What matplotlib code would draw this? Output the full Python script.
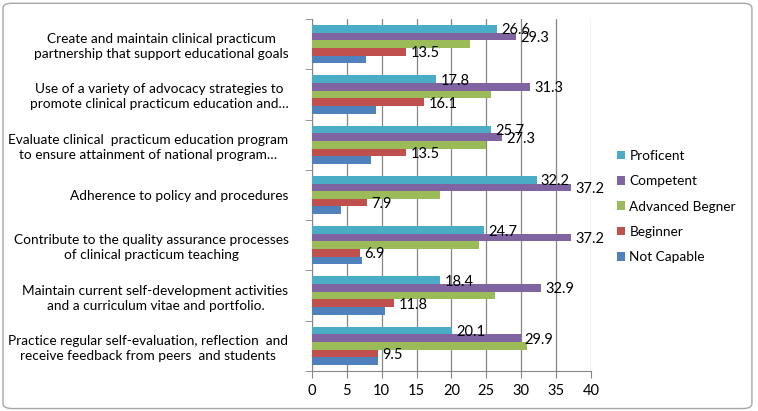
import matplotlib.pyplot as plt
import numpy as np
from matplotlib.patches import FancyBboxPatch, Patch

# Categories listed top to bottom as they appear in the chart
categories = [
    "Create and maintain clinical practicum\npartnership that support educational goals",
    "Use of a variety of advocacy strategies to\npromote clinical practicum education and…",
    "Evaluate clinical  practicum education program\nto ensure attainment of national program…",
    "Adherence to policy and procedures",
    "Contribute to the quality assurance processes\nof clinical practicum teaching",
    "Maintain current self-development activities\nand a curriculum vitae and portfolio.",
    "Practice regular self-evaluation, reflection  and\nreceive feedback from peers  and students",
]
series_names = ["Proficent", "Competent", "Advanced Begner", "Beginner", "Not Capable"]
proficient = [26.6, 17.8, 25.7, 32.2, 24.7, 18.4, 20.1]
competent = [29.3, 31.3, 27.3, 37.2, 37.2, 32.9, 29.9]
advanced = [22.7, 25.7, 25.0, 18.4, 24.0, 26.3, 30.9]
beginner = [13.5, 16.1, 13.5, 7.9, 6.9, 11.8, 9.5]
not_capable = [7.8, 9.2, 8.5, 4.2, 7.2, 10.5, 9.5]
labelled = [True, True, False, True, False]

colors = ["#4BACC6", "#8064A2", "#9BBB59", "#C0504D", "#4F81BD"]

plt.rcParams.update({
    "font.family": ["Lato", "DejaVu Sans"],
    "font.size": 10.5,
})

fig = plt.figure(figsize=(7.58, 4.11), dpi=100)
fig.patches.append(FancyBboxPatch((0.004, 0.006), 0.988, 0.986,
                                  boxstyle="round,pad=0,rounding_size=0.012",
                                  transform=fig.transFigure, facecolor="none",
                                  edgecolor="#A6A6A6", linewidth=1.0))
ax = fig.add_axes([0.4116, 0.0973, 0.368, 0.8565])

data = [proficient, competent, advanced, beginner, not_capable]
n = len(categories)
centers = np.arange(n)[::-1].astype(float)
bh = 0.152
for i, (vals, col) in enumerate(zip(data, colors)):
    ys = centers + (2 - i) * bh
    ax.barh(ys, vals, height=bh, color=col, edgecolor="none", zorder=3)
    if labelled[i]:
        for y, v in zip(ys, vals):
            ax.text(v + 0.6, y - 0.03, f"{v:.1f}", va="center", ha="left",
                    fontsize=10.5, color="#000000", zorder=4)

ax.set_xlim(0, 40)
ax.set_ylim(-0.5, n - 0.5)
ax.set_xticks(np.arange(0, 41, 5))
ax.set_yticks(centers)
ax.set_yticklabels(categories, fontsize=9.8, linespacing=1.3)
for lab in ax.get_yticklabels():
    lab.set_multialignment("center")
ax.set_yticks(np.arange(-0.5, n, 1.0), minor=True)
ax.tick_params(axis="y", which="major", length=0, pad=17)
ax.tick_params(axis="y", which="minor", length=5, color="#868686", direction="out")
ax.tick_params(axis="x", length=5, color="#868686", direction="out", pad=4)
ax.grid(axis="x", color="#868686", linewidth=0.9, zorder=0)
for s in ["top", "right"]:
    ax.spines[s].set_visible(False)
for s in ["left", "bottom"]:
    ax.spines[s].set_color("#868686")

handles = [Patch(facecolor=c, edgecolor="none") for c in colors]
fig.legend(handles, series_names, loc="upper left", bbox_to_anchor=(0.798, 0.665),
           frameon=False, handlelength=0.6, handleheight=0.6, handletextpad=0.3,
           labelspacing=0.98, fontsize=9.8)

fig.savefig("out.png", dpi=100)
